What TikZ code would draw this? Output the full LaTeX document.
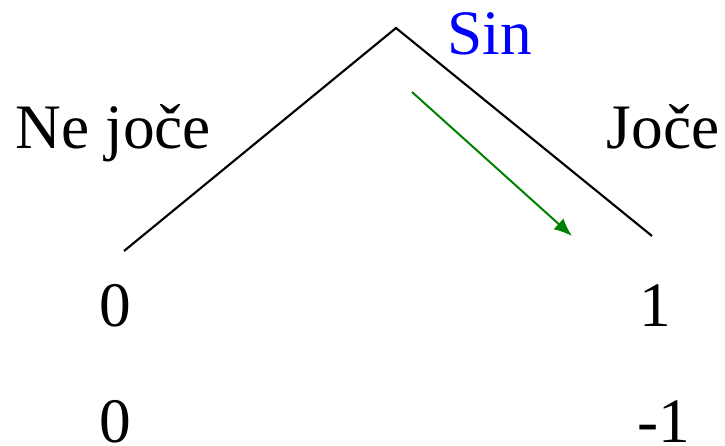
\documentclass[tikz,border=0pt]{standalone}
\usepackage{fontspec}
\setmainfont{Liberation Serif}
\usetikzlibrary{arrows.meta}
\definecolor{arrgreen}{RGB}{0,128,0}
\definecolor{labblue}{RGB}{0,0,255}
\begin{document}
\begin{tikzpicture}[x=0.75pt,y=-0.75pt,
  lab/.style={inner sep=0pt,anchor=base,font=\fontsize{47.5}{57}\selectfont},
  branch/.style={line width=1.6pt,black},
  hint/.style={line width=1.5pt,arrgreen,-{Latex[length=13.5pt,width=11pt]}}]
\useasboundingbox (0,0) rectangle (725,446);
\coordinate (apex) at (396,28);
\coordinate (lend) at (124,251);
\coordinate (rend) at (652,236);
\coordinate (hs) at (412,92);
\coordinate (he) at (572,236);
\draw[branch] (lend) -- (apex) -- (rend);
\draw[hint] (hs) -- (he);
\node[lab,text=labblue] (sin) at (489.5,54) {Sin};
\node[lab] (nj) at (113.5,148) {Ne joče};
\node[lab] (j) at (663,148) {Joče};
\node[lab] (l1) at (115,326) {0};
\node[lab] (l2) at (115,442) {0};
\node[lab] (r1) at (655,326) {1};
\node[lab] (r2) at (664,442) {-1};
\end{tikzpicture}
\end{document}
